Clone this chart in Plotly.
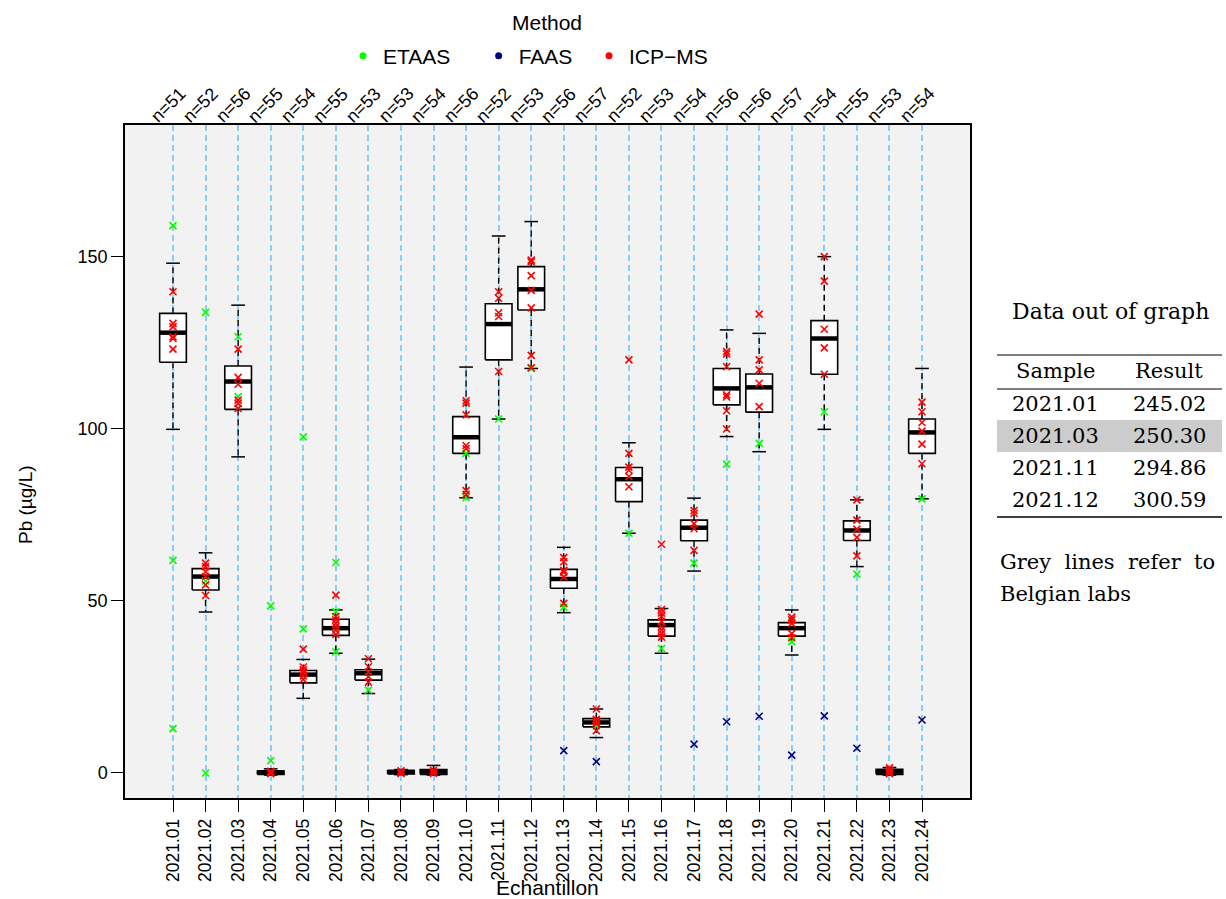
import plotly.graph_objects as go

# ---------------- data ----------------
samples = ["2021.01", "2021.02", "2021.03", "2021.04", "2021.05", "2021.06",
           "2021.07", "2021.08", "2021.09", "2021.10", "2021.11", "2021.12",
           "2021.13", "2021.14", "2021.15", "2021.16", "2021.17", "2021.18",
           "2021.19", "2021.20", "2021.21", "2021.22", "2021.23", "2021.24"]
n_counts = [51, 52, 56, 55, 54, 55, 53, 53, 54, 56, 52, 53,
            56, 57, 52, 53, 54, 56, 56, 57, 54, 55, 53, 54]

# box statistics
q1 = [119.4, 53.2, 105.7, -0.4, 26.2, 40.0, 27.0, -0.3, -0.4, 92.9, 120.1, 134.6,
      53.7, 13.4, 78.9, 39.8, 67.5, 107.0, 104.9, 39.8, 115.9, 67.6, -0.4, 92.9]
med = [128.0, 57.1, 113.8, 0.2, 28.6, 42.1, 29.0, 0.3, 0.4, 97.6, 130.5, 140.6,
       56.4, 14.7, 85.4, 43.0, 71.3, 111.8, 112.1, 42.1, 126.3, 70.5, 0.4, 99.0]
q3 = [133.6, 59.4, 118.3, 0.6, 29.8, 44.7, 30.0, 0.7, 1.0, 103.6, 136.4, 147.2,
      59.2, 15.8, 88.8, 44.5, 73.5, 117.6, 116.0, 43.7, 131.5, 73.3, 1.1, 102.9]
whisk_lo = [99.9, 46.8, 91.9, -0.6, 21.7, 34.8, 23.1, -0.5, -0.6, 80.0, 102.9, 117.6,
            46.6, 10.3, 69.7, 34.8, 58.7, 97.8, 93.4, 34.3, 99.9, 60.0, -0.6, 79.7]
whisk_hi = [148.2, 64.0, 136.0, 1.2, 33.0, 47.4, 33.1, 1.0, 2.2, 118.0, 156.1, 160.3,
            65.6, 18.6, 96.0, 47.8, 79.9, 128.8, 127.8, 47.4, 150.1, 79.4, 1.6, 117.6]

# individual lab results by method
etaas = {
    "2021.01": [159.1, 61.8, 12.9], "2021.02": [133.9, 55.8, 0.0],
    "2021.03": [126.8, 109.4], "2021.04": [48.6, 3.6], "2021.05": [97.7, 41.9],
    "2021.06": [61.2, 46.9, 35.2], "2021.07": [24.1], "2021.10": [92.9, 80.0],
    "2021.11": [102.9], "2021.12": [117.6], "2021.13": [48.2], "2021.14": [13.7],
    "2021.15": [69.7], "2021.16": [36.2], "2021.17": [61.0], "2021.18": [89.8],
    "2021.19": [95.8], "2021.20": [38.2], "2021.21": [105.0], "2021.22": [57.8],
    "2021.24": [79.7],
}
faas = {
    "2021.13": [6.5], "2021.14": [3.3], "2021.17": [8.4], "2021.18": [14.9],
    "2021.19": [16.5], "2021.20": [5.2], "2021.21": [16.6], "2021.22": [7.2],
    "2021.24": [15.4],
}
icpms = {
    "2021.01": [139.9, 130.7, 129.7, 126.8, 126.3, 123.2],
    "2021.02": [61.0, 60.0, 58.5, 57.1, 54.7, 51.6],
    "2021.03": [123.2, 115.0, 113.0, 108.4, 107.4, 106.0],
    "2021.04": [0.5, 0.1, -0.2],
    "2021.05": [36.0, 30.8, 30.0, 29.4, 28.2, 27.2],
    "2021.06": [51.7, 45.5, 44.5, 43.5, 42.5, 41.5, 40.3],
    "2021.07": [33.2, 30.9, 29.3, 28.0, 26.4],
    "2021.08": [0.6, 0.2, -0.1],
    "2021.09": [0.8, 0.3, -0.1],
    "2021.10": [108.2, 107.5, 104.1, 95.2, 94.3, 82.1, 81.0],
    "2021.11": [139.9, 138.0, 133.8, 132.7, 116.7],
    "2021.12": [149.1, 148.6, 144.6, 140.3, 135.2, 121.4, 117.8],
    "2021.13": [62.6, 61.4, 58.9, 58.4, 57.0, 49.3],
    "2021.14": [18.6, 15.6, 15.2, 14.8, 14.3, 12.3],
    "2021.15": [120.1, 92.9, 88.9, 88.0, 86.2, 83.2],
    "2021.16": [66.5, 47.5, 46.5, 45.5, 44.0, 42.5, 41.5, 40.5, 39.5],
    "2021.17": [76.3, 75.5, 72.5, 71.0, 64.7],
    "2021.18": [122.5, 121.8, 118.1, 109.9, 109.3, 105.3, 100.0],
    "2021.19": [133.4, 120.1, 117.2, 113.3, 106.5],
    "2021.20": [45.3, 44.5, 43.5, 40.5, 39.3],
    "2021.21": [150.1, 143.0, 129.0, 123.6, 115.9],
    "2021.22": [79.4, 73.5, 70.9, 68.5, 63.1],
    "2021.23": [1.5, 0.8, 0.2, -0.2],
    "2021.24": [107.8, 105.0, 101.9, 99.4, 95.6, 89.9],
}

method_names = ["ETAAS", "FAAS", "ICP\u2212MS"]
method_colors = ["#00FF00", "#000080", "#FF0000"]

out_samples = ["2021.01", "2021.03", "2021.11", "2021.12"]
out_results = ["245.02", "250.30", "294.86", "300.59"]
highlight_row = 1

# ---------------- figure ----------------
SANS = "Liberation Sans, Arial, sans-serif"
SERIF = "DejaVu Serif, serif"

pos = list(range(1, len(samples) + 1))
HW = 0.41   # half box width
CW = 0.21   # half cap width

fig = go.Figure()

# boxes
bx, by = [], []
for p, a, b in zip(pos, q1, q3):
    bx += [p - HW, p + HW, p + HW, p - HW, p - HW, None]
    by += [a, a, b, b, a, None]
fig.add_trace(go.Scatter(x=bx, y=by, mode="lines", fill="toself", fillcolor="white",
                         line=dict(color="black", width=1.6), hoverinfo="skip", showlegend=False))

# whiskers (dashed)
wx, wy = [], []
for p, a, b, lo, hi in zip(pos, q1, q3, whisk_lo, whisk_hi):
    wx += [p, p, None, p, p, None]
    wy += [b, hi, None, a, lo, None]
fig.add_trace(go.Scatter(x=wx, y=wy, mode="lines", line=dict(color="black", width=1.4, dash="6px,4px"),
                         hoverinfo="skip", showlegend=False))

# caps
cx, cy = [], []
for p, lo, hi in zip(pos, whisk_lo, whisk_hi):
    cx += [p - CW, p + CW, None, p - CW, p + CW, None]
    cy += [hi, hi, None, lo, lo, None]
fig.add_trace(go.Scatter(x=cx, y=cy, mode="lines", line=dict(color="black", width=1.5),
                         hoverinfo="skip", showlegend=False))

# medians
mx, my = [], []
for p, m in zip(pos, med):
    mx += [p - HW, p + HW, None]
    my += [m, m, None]
fig.add_trace(go.Scatter(x=mx, y=my, mode="lines", line=dict(color="black", width=4.5),
                         hoverinfo="skip", showlegend=False))

# points
legend_pad = ["\u00a0" * 4, "\u00a0" * 2, ""]
for name, col, data, pad in zip(method_names, method_colors, [etaas, faas, icpms], legend_pad):
    xs, ys = [], []
    for s, vals in data.items():
        p = samples.index(s) + 1
        for v in vals:
            xs.append(p)
            ys.append(v)
    fig.add_trace(go.Scatter(x=xs, y=ys, mode="markers", showlegend=False, name=name,
                             marker=dict(symbol="x-thin", size=7, color=col,
                                         line=dict(width=1.6, color=col))))
    # legend entry (dot)
    fig.add_trace(go.Scatter(x=[None], y=[None], mode="markers", name=name + pad,
                             marker=dict(symbol="circle", size=7, color=col)))

def fx(px):
    return (px - 125) / 845.0

def fy(py):
    return (798 - py) / 673.0

XR = [-0.474, 25.474]
fig.update_layout(
    width=1226, height=899,
    margin=dict(l=125, r=256, t=125, b=101, autoexpand=False),
    plot_bgcolor="#f2f2f2", paper_bgcolor="white",
    font=dict(family=SANS, color="black"),
    xaxis=dict(range=XR, tickvals=pos, ticktext=samples, tickangle=-90,
               ticks="outside", ticklen=12, tickwidth=1.4, tickcolor="black",
               showline=True, mirror=True, linecolor="black", linewidth=1.5,
               showgrid=True, gridcolor="#87CEFA", griddash="6px,4px", gridwidth=1.5,
               zeroline=False, tickfont=dict(size=17.5, family=SANS)),
    yaxis=dict(range=[-7.27, 188.37], tickvals=[0, 50, 100, 150],
               ticks="outside", ticklen=12, tickwidth=1.4, tickcolor="black",
               showline=True, mirror=True, linecolor="black", linewidth=1.5,
               showgrid=False, zeroline=False, tickfont=dict(size=18, family=SANS)),
    legend=dict(orientation="h", x=fx(343), xanchor="left", y=fy(56), yanchor="middle",
                font=dict(size=21, family=SANS), bgcolor="rgba(0,0,0,0)"),
)

ann = []
ann.append(dict(text="Method", x=fx(547), y=fy(22), xref="paper", yref="paper",
                showarrow=False, font=dict(size=21, family=SANS), xanchor="center", yanchor="middle"))
for p, n in zip(pos, n_counts):
    ann.append(dict(text="n=%d" % n, x=p - 0.15, xref="x", y=fy(105), yref="paper",
                    showarrow=False, textangle=-45, font=dict(size=18, family=SANS),
                    xanchor="center", yanchor="middle"))
ann.append(dict(text="Echantillon", x=fx(547), y=fy(887), xref="paper", yref="paper",
                showarrow=False, font=dict(size=21, family=SANS), xanchor="center", yanchor="middle"))
ann.append(dict(text="Pb (\u00b5g/L)", x=fx(25), y=fy(505), xref="paper", yref="paper",
                showarrow=False, textangle=-90, font=dict(size=19, family=SANS),
                xanchor="center", yanchor="middle"))

# side table
TF = dict(size=21, family=SERIF)
ann.append(dict(text="Data out of graph", x=fx(1110), y=fy(311), xref="paper", yref="paper",
                showarrow=False, font=dict(size=22, family=SERIF), xanchor="center", yanchor="middle"))
ann.append(dict(text="Sample", x=fx(1055), y=fy(371), xref="paper", yref="paper",
                showarrow=False, font=TF, xanchor="center", yanchor="middle"))
ann.append(dict(text="Result", x=fx(1169), y=fy(371), xref="paper", yref="paper",
                showarrow=False, font=TF, xanchor="center", yanchor="middle"))
shapes = []
row_y = [404, 436, 468, 500]
for i, (s, r) in enumerate(zip(out_samples, out_results)):
    if i == highlight_row:
        shapes.append(dict(type="rect", xref="paper", yref="paper",
                           x0=fx(997), x1=fx(1222), y0=fy(row_y[i] + 16), y1=fy(row_y[i] - 16),
                           fillcolor="#cccccc", line=dict(width=0), layer="below"))
    ann.append(dict(text=s, x=fx(1055), y=fy(row_y[i]), xref="paper", yref="paper",
                    showarrow=False, font=TF, xanchor="center", yanchor="middle"))
    ann.append(dict(text=r, x=fx(1169), y=fy(row_y[i]), xref="paper", yref="paper",
                    showarrow=False, font=TF, xanchor="center", yanchor="middle"))
for ly, w in [(355, 1.2), (389, 1.0), (517, 1.5)]:
    shapes.append(dict(type="line", xref="paper", yref="paper", x0=fx(997), x1=fx(1222),
                       y0=fy(ly), y1=fy(ly), line=dict(color="black", width=w)))
sp = "\u00a0\u00a0"
ann.append(dict(text="Grey" + sp + "lines" + sp + "refer" + sp + "to", x=fx(998), y=fy(562),
                xref="paper", yref="paper", showarrow=False, font=TF, xanchor="left", yanchor="middle"))
ann.append(dict(text="Belgian labs", x=fx(998), y=fy(594), xref="paper", yref="paper",
                showarrow=False, font=TF, xanchor="left", yanchor="middle"))

fig.update_layout(annotations=ann, shapes=shapes)
fig.write_html("out.html")
